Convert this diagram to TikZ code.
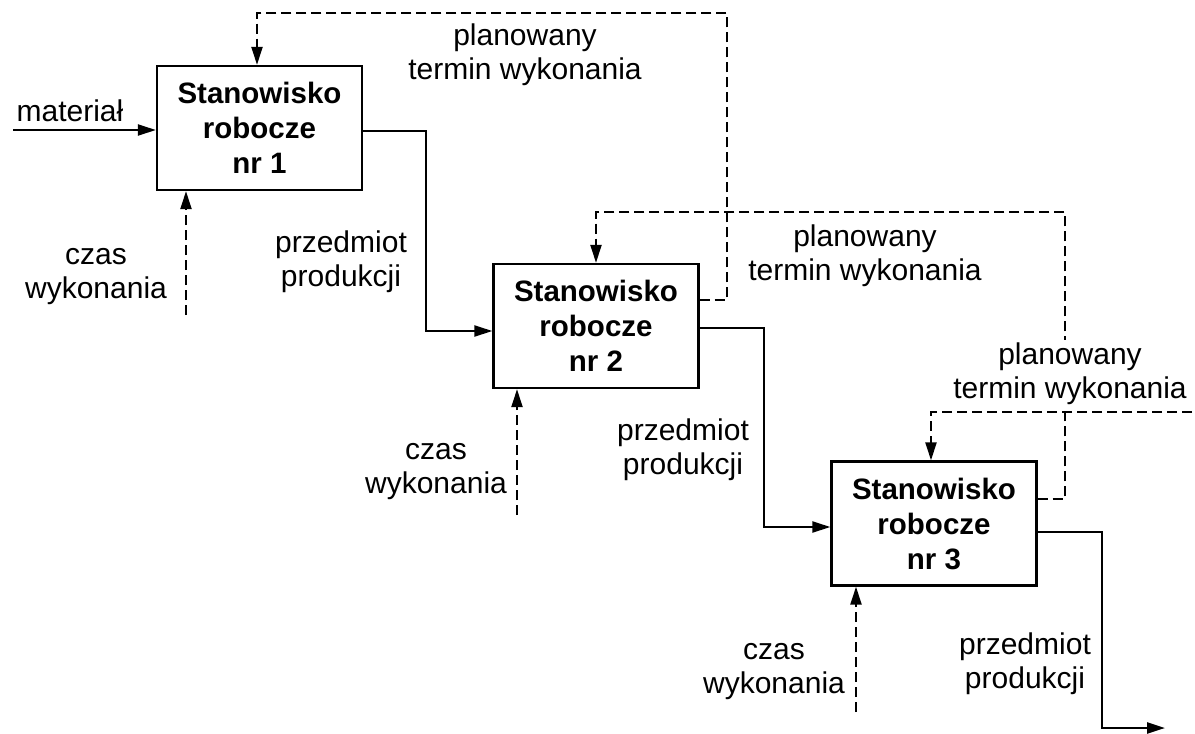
\documentclass[tikz,border=0pt]{standalone}
\usepackage{fontspec}
\setmainfont{Liberation Sans}
\usetikzlibrary{arrows.meta}
\begin{document}
\begin{tikzpicture}[x=1pt,y=-1pt,
  every node/.style={font=\fontsize{30}{34}\selectfont},
  stationbox/.style={draw,line width=2.3pt,rectangle,minimum width=205pt,minimum height=124pt,
    inner sep=0pt,align=center,font=\fontsize{29.5}{35}\selectfont\bfseries,
    execute at begin node={\rule{0pt}{32pt}}},
  lbl/.style={align=center,inner sep=0pt},
  flow/.style={line width=2.3pt,-{Triangle[length=18pt,width=11pt]}},
  plan/.style={line width=2.2pt,dash pattern=on 10pt off 5pt,-{Triangle[length=18pt,width=11pt]}}
]
\useasboundingbox (0,0) rectangle (1195,734);

% work stations
\node[stationbox] (b1) at (259.5,128) {Stanowisko\\robocze\\nr 1};
\node[stationbox] (b2) at (596,326) {Stanowisko\\robocze\\nr 2};
\node[stationbox] (b3) at (934,523.5) {Stanowisko\\robocze\\nr 3};

% free ends and corners of the connectors
\coordinate (in1) at (13,130);
\coordinate (top1) at (727,13);
\coordinate (top2) at (1065,212);
\coordinate (right3) at (1192,412);
\coordinate (t1) at (186,315);
\coordinate (t2) at (517,515);
\coordinate (t3) at (856,712);
\coordinate (out) at (1165,728);

% material flow
\draw[flow] (in1) -- (in1 -| b1.west);
\draw[flow] ([yshift=-3pt]b1.east) -- ++(63,0) |- ([yshift=-5pt]b2.west);
\draw[flow] ([yshift=-2pt]b2.east) -- ++(64,0) |- ([yshift=-3.5pt]b3.west);
\draw[flow] ([yshift=-8.5pt]b3.east) -- ++(64,0) |- (out);

% planned completion dates fed back
\draw[plan] ([yshift=26pt]b2.east) -| (top1) -| ([xshift=-2.5pt]b1.north);
\draw[plan] ([yshift=24.5pt]b3.east) -| (top2) -| (b2.north);
\node[lbl,fill=white,inner sep=3pt] (pl3) at (1070,374) {planowany\\termin wykonania};
\draw[plan] (right3) -| ([xshift=-3pt]b3.north);

% execution times
\draw[plan] (t1) -- (t1 |- b1.south);
\draw[plan] (t2) -- (t2 |- b2.south);
\draw[plan] (t3) -- (t3 |- b3.south);

% labels
\node[lbl] (mat) at (70,111) {materiał};
\node[lbl] (pl1) at (525,55) {planowany\\termin wykonania};
\node[lbl] (pl2) at (865,255.5) {planowany\\termin wykonania};
\node[lbl] (cz1) at (96,277) {czas\\wykonania};
\node[lbl] (cz2) at (436,472) {czas\\wykonania};
\node[lbl] (cz3) at (774,672) {czas\\wykonania};
\node[lbl] (pp1) at (341,262) {przedmiot\\produkcji};
\node[lbl] (pp2) at (683,450) {przedmiot\\produkcji};
\node[lbl] (pp3) at (1025,664) {przedmiot\\produkcji};
\end{tikzpicture}
\end{document}
